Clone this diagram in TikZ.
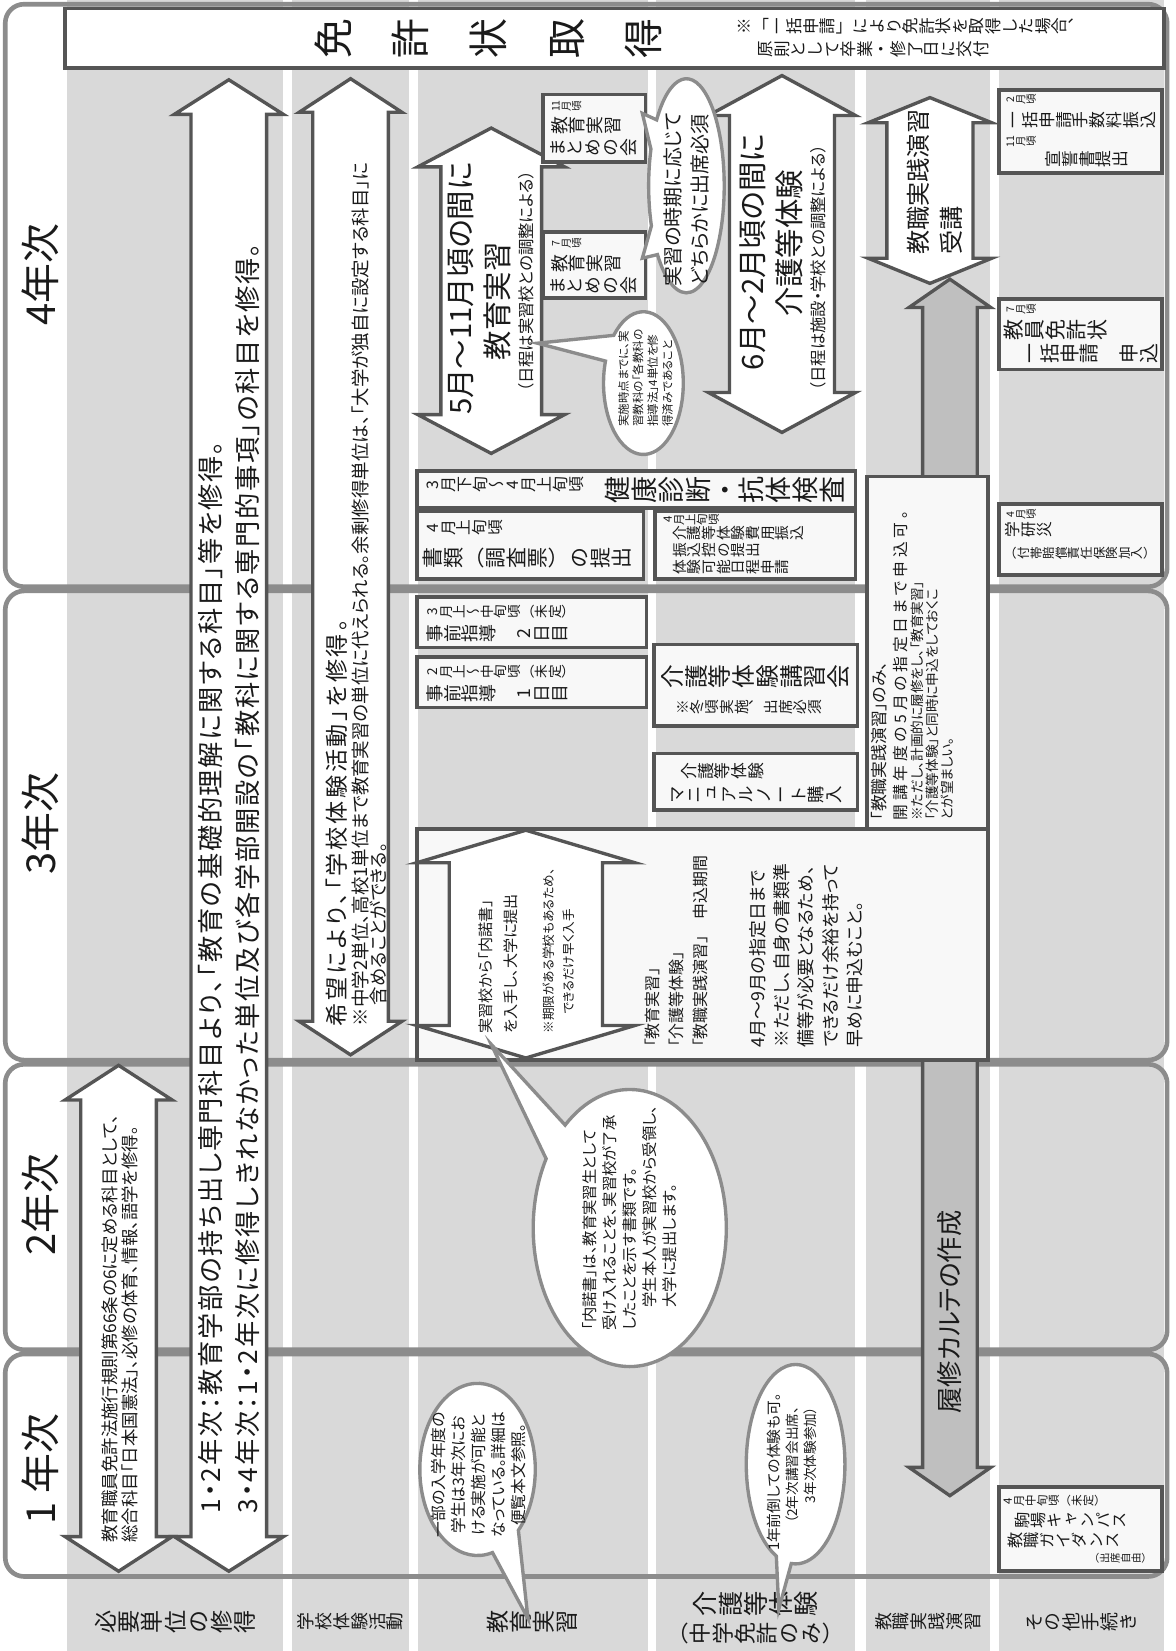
\documentclass[tikz,border=0pt]{standalone}
\usepackage{fontspec}
\setmainfont{Noto Sans CJK JP}[RawFeature={+palt}]
\newfontfamily\tfont{Noto Sans CJK JP}[RawFeature={+vert}]
\usetikzlibrary{calc}
\definecolor{stripe}{HTML}{D9D9D9}
\definecolor{bandc}{HTML}{8C8C8C}
\definecolor{boxc}{HTML}{555555}
\definecolor{boxf}{HTML}{F8F8F8}
\definecolor{bubc}{HTML}{8C8C8C}
\definecolor{grayarr}{HTML}{BFBFBF}
\definecolor{txt}{HTML}{1A1A1A}
% vertical (tategaki) column
\def\tcolend{\TCOLEND}
\def\tcolX#1{\ifx\tcolend#1\relax\else\hbox to 1em{\hss\raisebox{0pt}[.88em][.12em]{#1}\hss}\vskip\tcolgap\relax\expandafter\tcolX\fi}
\newcommand\tcol[2][0pt]{\vtop{\offinterlineskip\def\tcolgap{#1}\tcolX#2\tcolend}}
% letter spaced horizontal text
\def\lspcend{\LSPCEND}
\def\lspcX#1{\ifx\lspcend#1\relax\else#1\hskip\lspcgap\relax\expandafter\lspcX\fi}
\newcommand\lspc[2]{\def\lspcgap{#1}\lspcX#2\lspcend}
\newcommand\tfs[1]{\tfont\fontsize{#1}{#1}\selectfont}
\newcommand\hfs[2]{\fontsize{#1}{#2}\selectfont}
\newcommand\vdarrow[7]{\path[#1] (#2,#3) -- ({#2+#5},{#3+#7}) -- ({#2+#6},{#3+#7}) -- ({#2+#6},{#4-#7}) -- ({#2+#5},{#4-#7}) -- (#2,#4) -- ({#2-#5},{#4-#7}) -- ({#2-#6},{#4-#7}) -- ({#2-#6},{#3+#7}) -- ({#2-#5},{#3+#7}) -- cycle;}
\tikzset{
  rl/.style={rotate=90, inner sep=0pt, anchor=west, align=left, text=txt},
  rc/.style={rotate=90, inner sep=0pt, anchor=center, align=center, text=txt},
  tt/.style={rotate=90, inner sep=0pt, anchor=north, text=txt},
  tc/.style={rotate=90, inner sep=0pt, anchor=center, text=txt},
  boxs/.style={draw=boxc, fill=boxf, line width=1.8pt},
  arr/.style={draw=boxc, fill=white, line width=1.6pt, line join=miter},
  garr/.style={draw=boxc, fill=grayarr, line width=1.6pt, line join=miter},
  bubble/.style={draw=bubc, fill=white, line width=1.6pt},
  band/.style={draw=bandc, line width=2.2pt, rounded corners=9pt},
}
\begin{document}
\begin{tikzpicture}[x=0.5pt,y=-0.5pt]
\useasboundingbox (0,0) rectangle (1120,1573);
\fill[white] (0,0) rectangle (1120,1573);
% column stripes
\foreach \a/\b in {64/270,278/390,398/617,625/815,825/943,952/1109}
  \fill[stripe] (\a,0) rectangle (\b,1573);
% year bands
\draw[band] (5,4) rectangle (1112,559);
\draw[band] (5,563) rectangle (1112,1010);
\draw[band] (5,1014) rectangle (1112,1286);
\draw[band] (5,1290) rectangle (1112,1502);
% year labels
\node[rc, font=\hfs{19}{19}] (y4) at (38,262) {4年次};
\node[rc, font=\hfs{19}{19}] (y3) at (38,785) {3年次};
\node[rc, font=\hfs{19}{19}] (y2) at (38,1148) {2年次};
\node[rc, font=\hfs{19}{19}] (y1) at (38,1400) {1 年次};
% bottom row labels
\node[tc, font=\tfs{11}] (l1) at (167,1545) {\tcol{必要単位の修得}};
\node[tc, font=\tfs{8.5}] (l2) at (334,1545) {\tcol{学校体験活動}};
\node[tc, font=\tfs{11}] (l3) at (507,1545) {\tcol{教育実習}};
\node[tc, font=\tfs{12}] (l4a) at (720,1528) {\tcol{介護等体験}};
\node[tc, font=\tfs{10.5}] (l4b) at (720,1556) {\tcol{（中学免許のみ）}};
\node[tc, font=\tfs{8.5}] (l5) at (884,1545) {\tcol{教職実践演習}};
\node[tc, font=\tfs{9}] (l6) at (1030,1545) {\tcol{その他手続き}};
% top bar
\draw[line width=1.8pt, draw=boxc, fill=white] (62,8) rectangle (1109,65);
\node[tt, font=\tfs{19}] (menkyo) at (298,37) {\tcol[18pt]{免許状取得}};
\node[tt, font=\tfs{7.9}] (note1) at (701,25) {\tcol{※「一括申請」により免許状を取得した場合、}};
\node[tt, font=\tfs{7.9}] (note2) at (721,47) {\tcol{原則として卒業・修了日に交付}};
% block arrows
\vdarrow{garr}{905}{266}{1425}{39}{26}{27}
\vdarrow{arr}{113}{1015}{1497}{51}{36}{33}
\vdarrow{arr}{218}{76}{1497}{52}{36}{33}
\vdarrow{arr}{334}{75}{1005}{49}{36}{32}
\vdarrow{arr}{468}{122}{432}{70}{48}{37}
\vdarrow{arr}{745}{72}{412}{70}{50}{38}
\vdarrow{arr}{886}{93}{270}{59}{41}{24}
% arrow texts
\node[rl, font=\hfs{8.3}{9.5}] (c1s) at (114.5,1470) {教育職員免許法施行規則第66条の6に定める科目として、\\総合科目「日本国憲法」、必修の体育、情報、語学を修得。};
\node[rl, font=\hfs{12.5}{17.5}] (c1b) at (218.5,1442) {\lspc{0.8pt}{1・2年次：教育学部の持ち出し専門科目より、「教育の基礎的理解に関する科目」等を修得。}\\\lspc{0.8pt}{3・4年次：1・2年次に修得しきれなかった単位及び各学部開設の「教科に関する専門的事項」の科目を修得。}};
\node[rl, font=\hfs{11}{11}] (c2a) at (321,978) {\lspc{1.3pt}{希望により、「学校体験活動」を修得。}};
\node[rl, font=\hfs{8.8}{8.8}] (c2b) at (343,978) {※中学2単位、高校1単位まで教育実習の単位に代えられる。余剰修得単位は、「大学が独自に設定する科目」に};
\node[rl, font=\hfs{8.8}{8.8}] (c2c) at (361,958) {含めることができる。};
\node[rc, font=\hfs{14}{14}] (c3a) at (439,275) {5月〜11月頃の間に};
\node[rc, font=\hfs{14}{14}] (c3b) at (474,287) {教育実習};
\node[rc, font=\hfs{7.8}{7.8}] (c3c) at (501,268) {（日程は実習校との調整による）};
\node[rc, font=\hfs{14}{14}] (c4a) at (717,240) {6月〜2月頃の間に};
\node[rc, font=\hfs{14}{14}] (c4b) at (752,232) {介護等体験};
\node[rc, font=\hfs{7.8}{7.8}] (c4c) at (780,255) {（日程は施設・学校との調整による）};
\node[rl, font=\hfs{11.5}{15.5}] (c5t) at (890.5,243) {教職実践演習\\受講};
% summary meeting boxes
\draw[boxs] (517,90) rectangle (615,154);
\node[tt, font=\tfs{5}] (b11a) at (524,101) {\tcol{{11}月頃}};
\node[tt, font=\tfs{8.5}] (b11b) at (524,120) {\tcol{教育実習}};
\node[tt, font=\tfs{8.5}] (b11c) at (522,141) {\tcol{まとめの会}};
\draw[boxs] (517,221) rectangle (615,284);
\node[tt, font=\tfs{5}] (b7a) at (524,232) {\tcol{7月頃}};
\node[tt, font=\tfs{8.5}] (b7b) at (524,251) {\tcol{教育実習}};
\node[tt, font=\tfs{8.5}] (b7c) at (522,272) {\tcol{まとめの会}};
% bubble B1
\path[bubble] ($(654,177)+(218:36 and 102)$) arc[start angle=218,end angle=500,x radius=36,y radius=102] -- (612,246) -- ($(654,177)+(158:36 and 102)$) arc[start angle=158,end angle=200,x radius=36,y radius=102] -- (612,108) -- cycle;
\node[rl, font=\hfs{9.5}{12.5}] (b1t) at (654,273) {実習の時期に応じて\\どちらかに出席必須};
% bubble B2
\path[bubble] ($(613,365)+(222:38 and 68)$) arc[start angle=222,end angle=558,x radius=38,y radius=68] -- (512,327) -- cycle;
\node[rl, font=\hfs{5.5}{7}] (b2t) at (615,407) {実施時点までに、実\\習教科の「各教科の\\指導法」4単位を修\\得済みであること};
% other procedures
\draw[boxs] (952,86) rectangle (1107,165);
\node[tt, font=\tfs{5}] (o1a) at (957,95) {\tcol{2月頃}};
\node[tt, font=\tfs{8}] (o1b) at (957,114) {\tcol{一括申請手数料振込}};
\node[tt, font=\tfs{5}] (o1c) at (957,135) {\tcol{{11}月頃}};
\node[tt, font=\tfs{8}] (o1d) at (995,152) {\tcol{宣誓書提出}};
\draw[boxs] (952,285) rectangle (1107,352);
\node[tt, font=\tfs{5}] (o2a) at (957,295) {\tcol{7月頃}};
\node[tt, font=\tfs{10}] (o2b) at (955,314) {\tcol{教員免許状}};
\node[tt, font=\tfs{9.5}] (o2c) at (971,337) {\tcol{一括申請　申込}};
\draw[boxs] (952,480) rectangle (1107,548);
\node[tt, font=\tfs{5}] (o3a) at (957,490) {\tcol{4月頃}};
\node[tt, font=\tfs{7.5}] (o3b) at (957,505) {\tcol{学研災}};
\node[tt, font=\tfs{6}] (o3c) at (957,527) {\tcol{（付帯賠償責任保険加入）}};
\draw[boxs] (952,1417) rectangle (1107,1497);
\node[tt, font=\tfs{5.5}] (o4a) at (954,1430) {\tcol{4月中旬頃（未定）}};
\node[tt, font=\tfs{7.7}] (o4b) at (966,1449) {\tcol{駒場キャンパス}};
\node[tt, font=\tfs{7.7}] (o4c) at (959,1468) {\tcol{教職ガイダンス}};
\node[tt, font=\tfs{5}] (o4d) at (1037,1485) {\tcol{（出席自由）}};
% 4th year lower boxes
\draw[boxs] (397,449) rectangle (815,484);
\node[tt, font=\tfs{7.6}] (k1a) at (404,462) {\tcol{3月下旬〜4月上旬頃}};
\node[tt, font=\tfs{12.8}] (k1b) at (575,467) {\tcol{健康診断・抗体検査}};
\draw[boxs] (397,487) rectangle (613,552);
\node[tt, font=\tfs{7.5}] (k2a) at (404,503) {\tcol{4月上旬頃}};
\node[tt, font=\tfs{10}] (k2b) at (402,532) {\tcol{書類（調査票）の提出}};
\draw[boxs] (624,487) rectangle (815,552);
\node[tt, font=\tfs{5.5}] (k3a) at (630,495) {\tcol{4月上旬頃}};
\node[tt, font=\tfs{7}] (k3b) at (640,508) {\tcol{介護等体験費用振込}};
\node[tt, font=\tfs{7}] (k3c) at (640,524) {\tcol{振込控の提出}};
\node[tt, font=\tfs{7}] (k3d) at (640,540) {\tcol{体験可能日程申請}};
% 3rd year boxes
\draw[boxs] (397,569) rectangle (616,617);
\node[tt, font=\tfs{6.5}] (j2a) at (405,583) {\tcol{3月上〜中旬頃（未定）}};
\node[tt, font=\tfs{8.5}] (j2b) at (405,604) {\tcol{事前指導　2日目}};
\draw[boxs] (397,626) rectangle (616,674);
\node[tt, font=\tfs{6.5}] (j1a) at (405,640) {\tcol{2月上〜中旬頃（未定）}};
\node[tt, font=\tfs{8.5}] (j1b) at (405,661) {\tcol{事前指導　1日目}};
\draw[boxs] (623,614) rectangle (817,692);
\node[tt, font=\tfs{11.3}] (kk1) at (629,645) {\tcol{介護等体験講習会}};
\node[tt, font=\tfs{7}] (kk2) at (643,674) {\tcol{※冬頃実施、出席必須}};
\draw[boxs] (623,718) rectangle (817,772);
\node[tt, font=\tfs{8}] (mm1) at (648,735) {\tcol{介護等体験}};
\node[tt, font=\tfs{8.3}] (mm2) at (636,757) {\tcol{マニュアルノ{\rmfamily ー}ト購入}};
% application boxes
\draw[boxs] (826,454) rectangle (941,790);
\draw[boxs] (397,790) rectangle (941,1010);
\vdarrow{arr}{501}{791}{1008}{104}{73}{31}
\node[rl, font=\hfs{7.2}{12}] (n1) at (475,985) {実習校から「内諾書」\\を入手し、大学に提出};
\node[rl, font=\hfs{6}{9.5}] (n2) at (532.5,985) {※期限がある学校もあるため、\\　\kern.5emできるだけ早く入手};
\node[rl, font=\hfs{7.6}{11.25}] (n3) at (644.5,998) {「教育実習」\\「介護等体験」\\「教職実践演習」　申込期間};
\node[rl, font=\hfs{8.5}{11.5}] (n4) at (768,998) {4月〜9月の指定日まで\\※ただし、自身の書類準\\備等が必要となるため、\\できるだけ余裕を持って\\早めに申込むこと。};
\node[rl, font=\hfs{8}{8}] (p1) at (838,782) {「教職実践演習」のみ、};
\node[rl, font=\hfs{7.5}{7.5}] (p2) at (858,782) {\lspc{1.8pt}{開講年度の5月の指定日まで申込可。}};
\node[rl, font=\hfs{6.5}{7}] (p3) at (888,782) {※ただし、計画的に履修をし、「教育実習」\\「介護等体験」と同時に申込をしておくこ\\とが望ましい。};
% karte arrow text
\node[rc, font=\hfs{12.5}{12.5}] (karte) at (905,1250) {履修カルテの作成};
% bubble B3
\path[bubble] ($(600,1170)+(228:92 and 132)$) arc[start angle=228,end angle=570,x radius=92,y radius=132] -- (468,995) -- cycle;
\node[rl, font=\hfs{7.3}{9.5}] (b3t) at (600,1268) {「内諾書」は、教育実習生として\\受け入れることを、実習校が了承\\したことを示す書類です。\\　\kern.5em学生本人が実習校から受領し、\\　\kern.5em大学に提出します。};
% bubble B4
\path[bubble] ($(455,1400)+(75:55 and 82)$) arc[start angle=75,end angle=405,x radius=55,y radius=82] -- (503,1542) -- cycle;
\node[rc, font=\hfs{7.5}{9.5}] (b4t) at (456,1405) {一部の入学年度の\\学生は3年次にお\\ける実施が可能と\\なっている。詳細は\\便覧本文参照。};
% bubble B5
\path[bubble] ($(758,1395)+(113:47 and 95)$) arc[start angle=113,end angle=455,x radius=47,y radius=95] -- (742,1533) -- cycle;
\node[rl, font=\hfs{7}{7}] (b5a) at (737,1478) {1年前倒しての体験も可。};
\node[rotate=90, inner sep=0pt, anchor=east, align=right, text=txt, font=\hfs{6.5}{8.5}] (b5b) at (763.5,1340) {（2年次講習会出席、\\3年次体験参加）};
\end{tikzpicture}
\end{document}
